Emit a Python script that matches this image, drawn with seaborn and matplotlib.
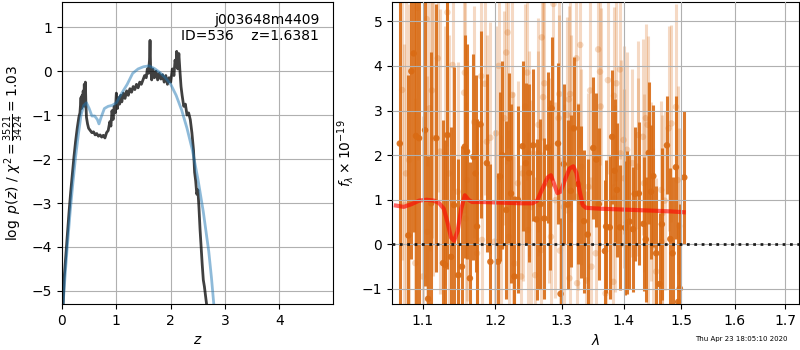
import matplotlib
matplotlib.use('Agg')
import matplotlib.pyplot as plt
from matplotlib.ticker import ScalarFormatter, NullFormatter
import seaborn as sns

# redshift PDF (left panel)
pz_z = [0.02, 0.04, 0.07, 0.10, 0.13, 0.16, 0.19, 0.22, 0.25, 0.28,
        0.31, 0.33, 0.35, 0.36, 0.37, 0.38, 0.39, 0.40, 0.41, 0.42,
        0.43, 0.44, 0.45, 0.47, 0.49, 0.52, 0.55, 0.58, 0.61, 0.64,
        0.67, 0.70, 0.73, 0.76, 0.79, 0.82, 0.85, 0.88, 0.90, 0.92,
        0.94, 0.96, 0.98, 1.00, 1.02, 1.04, 1.06, 1.08, 1.10, 1.13,
        1.16, 1.19, 1.22, 1.25, 1.28, 1.31, 1.34, 1.37, 1.40, 1.43,
        1.46, 1.49, 1.52, 1.55, 1.57, 1.59, 1.61, 1.62, 1.63, 1.65,
        1.67, 1.70, 1.73, 1.76, 1.79, 1.82, 1.85, 1.88, 1.91, 1.94,
        1.97, 2.00, 2.03, 2.06, 2.08, 2.10, 2.11, 2.13, 2.15, 2.17,
        2.19, 2.21, 2.24, 2.27, 2.30, 2.33, 2.36, 2.39, 2.42, 2.44,
        2.46, 2.48, 2.50, 2.52, 2.54, 2.56, 2.58, 2.60, 2.62, 2.64,
        2.66, 2.68]
pz_logp = [-5.35, -4.70, -4.20, -3.70, -3.20, -2.75, -2.35, -1.95, -1.60, -1.30,
           -1.05, -0.95, -0.60, -0.85, -0.55, -0.70, -0.45, -0.80, -0.30, -0.60,
           -0.25, -0.75, -1.05, -1.20, -1.30, -1.35, -1.40, -1.38, -1.45, -1.42,
           -1.48, -1.45, -1.50, -1.46, -1.52, -1.40, -1.35, -1.15, -1.25, -0.90,
           -1.10, -0.80, -0.95, -0.50, -0.85, -0.60, -0.75, -0.55, -0.70, -0.50,
           -0.62, -0.45, -0.55, -0.40, -0.48, -0.35, -0.42, -0.30, -0.38, -0.25,
           -0.30, -0.20, -0.10, -0.15, 0.05, -0.05, 0.25, 0.70, 0.10, -0.20,
           0.05, -0.15, 0.00, -0.20, -0.05, -0.18, -0.08, -0.25, -0.10, -0.30,
           -0.15, -0.25, 0.05, -0.10, 0.25, 0.10, 0.45, 0.05, 0.40, 0.00,
           -0.35, -0.55, -0.80, -0.75, -1.00, -0.95, -1.10, -1.40, -1.80, -2.30,
           -2.50, -2.80, -2.70, -3.10, -3.60, -4.00, -4.40, -4.75, -4.90, -5.10,
           -5.30, -5.45]

prior_z = [0.02, 0.06, 0.10, 0.15, 0.20, 0.25, 0.30, 0.35, 0.40, 0.45,
           0.50, 0.55, 0.60, 0.65, 0.68, 0.72, 0.78, 0.85, 0.92, 1.00,
           1.10, 1.20, 1.30, 1.40, 1.50, 1.60, 1.70, 1.80, 1.90, 2.00,
           2.10, 2.20, 2.30, 2.40, 2.50, 2.60, 2.70, 2.75, 2.80]
prior_logp = [-5.30, -4.60, -3.95, -3.20, -2.55, -1.95, -1.45, -1.00, -0.78, -0.72,
              -0.85, -1.02, -1.02, -1.10, -1.20, -1.05, -0.85, -0.80, -0.78, -0.72,
              -0.50, -0.30, -0.05, 0.05, 0.10, 0.12, 0.06, -0.03, -0.15, -0.30,
              -0.55, -0.88, -1.30, -1.80, -2.45, -3.20, -4.10, -4.70, -5.40]

# spectrum (right panel), first beam
spec1_wave = [1.070, 1.081, 1.085, 1.088, 1.091, 1.095, 1.103, 1.107, 1.111, 1.118,
              1.127, 1.130, 1.133, 1.138, 1.142, 1.148, 1.153, 1.157, 1.160, 1.164,
              1.169, 1.172, 1.174, 1.179, 1.188, 1.193, 1.204, 1.207, 1.210, 1.216,
              1.220, 1.223, 1.228, 1.233, 1.240, 1.245, 1.250, 1.256, 1.261, 1.267,
              1.273, 1.278, 1.281, 1.284, 1.294, 1.298, 1.303, 1.309, 1.314, 1.319,
              1.326, 1.330, 1.335, 1.341, 1.350, 1.355, 1.359, 1.369, 1.371, 1.377,
              1.381, 1.385, 1.389, 1.394, 1.403, 1.406, 1.410, 1.416, 1.419, 1.426,
              1.434, 1.438, 1.443, 1.447, 1.451, 1.456, 1.462, 1.466, 1.475, 1.481,
              1.485, 1.491, 1.495, 1.498, 1.506]
spec1_flux = [2.26, 0.20, 3.88, 4.28, 2.43, 2.38, 2.56, -1.22, 0.92, 2.38,
              -0.42, -0.46, 2.45, -0.28, 0.88, -0.69, -0.50, 2.19, 2.08, -0.76,
              1.96, 1.59, 0.40, 2.69, 1.82, -0.39, -0.39, 1.52, 2.00, 0.77,
              1.93, 1.14, -0.72, 1.00, 2.20, 1.82, 1.60, 2.22, 0.56, 0.90,
              0.58, 2.17, 1.33, 3.05, 2.26, -1.11, 1.80, 0.89, 1.20, 2.60,
              1.35, 0.95, 0.52, 0.22, 2.16, 1.90, 0.90, -0.15, 0.40, 0.38,
              2.41, 1.65, 1.22, 0.38, 0.37, 0.49, 0.51, 0.34, 1.13, 1.14,
              0.46, 0.11, 2.05, 1.18, 1.53, -0.20, -0.89, 0.45, 2.22, 0.12,
              -0.20, 1.73, -1.29, -0.99, 1.50]
spec1_err = [4.5, 3.6, 4.2, 4.0, 3.8, 3.9, 3.5, 3.2, 3.4, 3.0,
             3.2, 2.8, 3.0, 2.9, 3.1, 2.6, 2.7, 2.5, 2.4, 2.6,
             2.3, 2.2, 2.4, 2.1, 2.0, 2.2, 2.0, 1.9, 2.1, 2.0,
             1.9, 2.0, 1.8, 2.1, 1.9, 1.8, 2.0, 1.7, 1.8, 1.9,
             1.8, 1.7, 1.9, 1.6, 1.8, 1.7, 1.8, 1.9, 1.7, 1.6,
             1.8, 1.7, 1.6, 1.7, 1.6, 1.5, 1.7, 1.6, 1.5, 1.6,
             1.5, 1.6, 1.5, 1.4, 1.5, 1.6, 1.5, 1.4, 1.5, 1.6,
             1.5, 1.4, 1.6, 1.5, 1.6, 1.5, 1.6, 1.7, 1.1, 1.6,
             1.7, 1.6, 1.8, 1.9, 1.5]

# second beam (faint)
spec2_wave = [1.073, 1.076, 1.078, 1.082, 1.090, 1.093, 1.100, 1.105, 1.106, 1.109,
              1.112, 1.114, 1.120, 1.123, 1.130, 1.133, 1.135, 1.140, 1.147, 1.156,
              1.157, 1.158, 1.160, 1.170, 1.174, 1.180, 1.181, 1.185, 1.188, 1.193,
              1.199, 1.201, 1.205, 1.209, 1.213, 1.216, 1.218, 1.220, 1.225, 1.226,
              1.228, 1.233, 1.238, 1.240, 1.244, 1.247, 1.248, 1.250, 1.253, 1.259,
              1.263, 1.264, 1.268, 1.269, 1.271, 1.273, 1.280, 1.283, 1.287, 1.290,
              1.295, 1.296, 1.297, 1.303, 1.308, 1.311, 1.312, 1.313, 1.315, 1.323,
              1.324, 1.325, 1.329, 1.331, 1.339, 1.342, 1.345, 1.347, 1.354, 1.358,
              1.361, 1.362, 1.370, 1.374, 1.383, 1.384, 1.385, 1.388, 1.394, 1.395,
              1.400, 1.401, 1.406, 1.415, 1.424, 1.425, 1.433, 1.435, 1.438, 1.441,
              1.442, 1.447, 1.450, 1.456, 1.465, 1.466, 1.467, 1.471, 1.478, 1.483,
              1.491, 1.494, 1.497]
spec2_flux = [3.46, 0.88, 1.59, 1.89, -0.42, 5.30, -0.72, 5.05, 0.28, 3.05,
              3.45, 2.38, 4.17, 2.08, 2.00, 5.20, 1.59, 4.02, 1.18, 3.40,
              3.85, 0.58, 1.44, 2.74, -0.20, 3.77, 0.10, 3.60, 2.30, 2.39,
              0.06, 2.49, 4.00, -0.05, 2.83, 4.30, 4.75, 0.17, 3.35, 0.92,
              -0.43, 1.37, -0.72, 1.59, 3.09, 3.85, 0.32, 2.04, 0.84, -0.69,
              2.04, 2.68, -0.13, 4.64, 3.30, 3.61, 1.44, 0.17, 5.39, 0.99,
              2.83, 3.37, -0.14, 0.84, 2.90, 3.25, -0.76, 3.37, 2.60, 4.17,
              -0.87, 1.07, 4.47, 1.74, -0.81, 1.29, 3.45, -0.50, -0.20, 4.37,
              3.87, 3.09, -1.10, 3.68, -0.84, 3.33, 1.03, 3.61, 3.92, 2.04,
              2.34, 1.48, 2.12, 1.82, 1.74, 2.45, 2.41, 1.37, 2.83, 2.68,
              0.77, 1.18, -0.05, -0.61, 1.22, 0.06, 0.70, 0.98, 2.60, 2.71,
              3.08, 1.44, 0.41]
spec2_err = [3.8, 3.6, 3.9, 3.5, 3.7, 3.4, 3.6, 3.3, 3.5, 3.2,
             3.3, 3.1, 3.0, 3.2, 2.9, 3.0, 3.1, 2.8, 2.9, 2.7,
             2.8, 2.6, 2.7, 2.6, 2.5, 2.7, 2.6, 2.5, 2.4, 2.6,
             2.5, 2.4, 2.6, 2.5, 2.4, 2.5, 2.6, 2.4, 2.3, 2.5,
             2.4, 2.3, 2.5, 2.4, 2.3, 2.4, 2.2, 2.3, 2.4, 2.2,
             2.3, 2.4, 2.2, 2.3, 2.4, 2.2, 2.3, 2.1, 2.4, 2.2,
             2.3, 2.2, 2.1, 2.3, 2.2, 2.1, 2.3, 2.2, 2.1, 2.2,
             2.2, 2.1, 2.3, 2.2, 2.0, 2.1, 2.2, 2.0, 2.1, 2.3,
             2.1, 2.2, 2.0, 2.1, 2.2, 2.0, 2.1, 2.2, 2.0, 2.1,
             2.1, 2.0, 2.2, 2.1, 2.0, 2.1, 2.2, 2.0, 2.1, 2.0,
             2.1, 2.0, 2.2, 2.1, 2.0, 2.1, 2.2, 2.0, 2.3, 2.2,
             2.3, 2.1, 2.2]

# best-fit model
model_wave = [1.065, 1.075, 1.085, 1.095, 1.105, 1.115, 1.122, 1.128, 1.133, 1.138,
              1.142, 1.147, 1.152, 1.157, 1.162, 1.167, 1.18, 1.20, 1.22, 1.24,
              1.255, 1.262, 1.27, 1.278, 1.283, 1.288, 1.293, 1.298, 1.305, 1.312,
              1.318, 1.323, 1.328, 1.333, 1.338, 1.36, 1.40, 1.44, 1.48, 1.505]
model_flux = [0.87, 0.84, 0.90, 0.98, 1.00, 0.98, 0.92, 0.80, 0.50, 0.15,
              0.08, 0.30, 0.80, 1.10, 1.00, 0.95, 0.95, 0.94, 0.93, 0.92,
              0.92, 0.98, 1.25, 1.50, 1.55, 1.35, 1.15, 1.18, 1.45, 1.70,
              1.75, 1.60, 1.20, 0.88, 0.82, 0.80, 0.78, 0.76, 0.74, 0.72]

wave_ticks = [1.1, 1.2, 1.3, 1.4, 1.5, 1.6, 1.7]
orange = (0.85, 0.42, 0.08)

fig = plt.figure(figsize=(8, 3.5), dpi=100)
ax1 = fig.add_axes([0.0775, 0.131, 0.339, 0.863])
ax2 = fig.add_axes([0.49, 0.131, 0.509, 0.863])

# left: p(z)
sns.lineplot(x=pz_z, y=pz_logp, ax=ax1, color='k', alpha=0.75, lw=2, estimator=None)
sns.lineplot(x=prior_z, y=prior_logp, ax=ax1, color='tab:blue', alpha=0.5, lw=2, estimator=None)
ax1.set_xlim(0, 4.99)
ax1.set_ylim(-5.3, 1.57)
ax1.grid()
ax1.set_xlabel('$z$')
ax1.set_ylabel(r'$\log\ p(z)$ / $\chi^2=\frac{3521}{3424}=1.03$')
ax1.text(0.948, 0.965, 'j003648m4409\nID=536    z=1.6381',
         ha='right', va='top', transform=ax1.transAxes)

# right: spectrum
ax2.errorbar(spec2_wave, spec2_flux, yerr=spec2_err, fmt='none', ecolor=orange,
             alpha=0.25, elinewidth=2.2)
sns.scatterplot(x=spec2_wave, y=spec2_flux, ax=ax2, color=orange, alpha=0.25,
                s=22, edgecolor='none')
ax2.errorbar(spec1_wave, spec1_flux, yerr=spec1_err, fmt='none', ecolor=orange,
             alpha=0.9, elinewidth=2.2)
sns.scatterplot(x=spec1_wave, y=spec1_flux, ax=ax2, color=orange, alpha=0.9,
                s=22, edgecolor='none')
sns.lineplot(x=model_wave, y=model_flux, ax=ax2, color='r', alpha=0.6, lw=3, estimator=None)
ax2.axhline(0, color='k', ls=':', lw=2, alpha=0.85, zorder=10)

ax2.set_xscale('log')
ax2.set_xlim(1.06, 1.729)
ax2.set_ylim(-1.34, 5.43)
ax2.set_xticks(wave_ticks)
ax2.xaxis.set_major_formatter(ScalarFormatter())
ax2.xaxis.set_minor_formatter(NullFormatter())
ax2.set_axisbelow(False)
ax2.grid()
ax2.set_xlabel(r'$\lambda$')
ax2.set_ylabel(r'$f_\lambda\times10^{-19}$')

fig.text(0.985, 0.031, 'Thu Apr 23 18:05:10 2020', fontsize=5, ha='right', va='center')

fig.savefig('out.png', dpi=100)
